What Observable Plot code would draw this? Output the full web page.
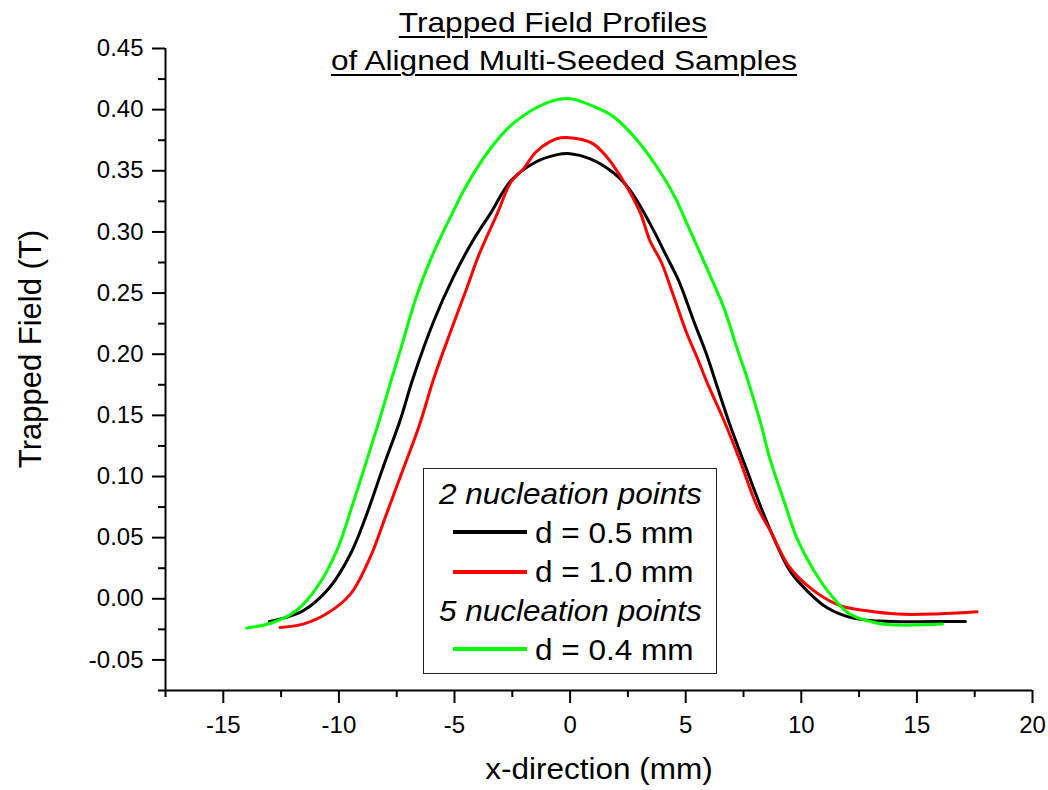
<!DOCTYPE html>
<html>
<head>
<meta charset="utf-8">
<script src="https://cdn.jsdelivr.net/npm/d3@7"></script>
<script src="https://cdn.jsdelivr.net/npm/@observablehq/plot@0.6"></script>
<style>
  html, body { margin: 0; padding: 0; background: #fff; }
  #wrap { position: relative; width: 1048px; height: 790px; font-family: "Liberation Sans", Arial, sans-serif; color: #000; overflow: hidden; }
  #wrap svg { position: absolute; left: 0; top: 0; }
  .ov { position: absolute; white-space: nowrap; }
  .title { font-size: 28px; line-height: 28px; text-decoration: underline; text-decoration-thickness: 2px; text-underline-offset: 4px; transform: translateX(-50%) scaleX(1.13); }
  .ylab { font-size: 31px; line-height: 31px; transform: translate(-50%, -50%) rotate(-90deg); }
  .xlab { font-size: 30px; line-height: 30px; transform: translateX(-50%) scaleX(1.05); }
  .leg { font-size: 30px; line-height: 30px; transform-origin: left center; transform: scaleX(1.05); }
  .it { font-style: italic; }
  .box { position: absolute; border: 1.5px solid #222; box-sizing: border-box; }
  .sw { position: absolute; height: 4px; }
</style>
</head>
<body>
<div id="wrap"></div>
<script>
// ---- data ----
const titleLines = ["Trapped Field Profiles", "of Aligned Multi-Seeded Samples"];
const xLabel = "x-direction (mm)";
const yLabel = "Trapped Field (T)";

const xDomain = [-17.5, 20];
const yDomain = [-0.075, 0.45];
const xMajor = [-15, -10, -5, 0, 5, 10, 15, 20];
const xMinor = [-17.5, -12.5, -7.5, -2.5, 2.5, 7.5, 12.5, 17.5];
const yMajor = [-0.05, 0, 0.05, 0.10, 0.15, 0.20, 0.25, 0.30, 0.35, 0.40, 0.45];
const yMinor = [-0.075, -0.025, 0.025, 0.075, 0.125, 0.175, 0.225, 0.275, 0.325, 0.375, 0.425];

const seriesNames = ["d = 0.5 mm", "d = 1.0 mm", "d = 0.4 mm"];
const seriesColors = ["#000000", "#ff0000", "#00ff00"];
const legendGroups = ["2 nucleation points", "5 nucleation points"];

// 2 nucleation points, d = 0.5 mm (black)
const xBlack = [-13.0, -12.4, -11.55, -10.4, -9.5, -8.8, -8.1, -7.35, -6.8, -5.9, -5.05, -4.2, -3.45, -2.55, -1.5, -0.6, 0, 0.85, 1.9, 2.6, 3.45, 4.2, 4.7, 5.35, 5.9, 6.25, 6.9, 7.65, 8.25, 8.8, 9.5, 10.25, 11.1, 12.25, 14.0, 15.7, 17.1];
const yBlack = [-0.0186, -0.0158, -0.0098, 0.0093, 0.0366, 0.069, 0.107, 0.146, 0.180, 0.227, 0.263, 0.293, 0.315, 0.342, 0.357, 0.363, 0.364, 0.360, 0.348, 0.334, 0.307, 0.279, 0.260, 0.227, 0.200, 0.180, 0.143, 0.105, 0.075, 0.050, 0.023, 0.0065, -0.0071, -0.0158, -0.0186, -0.0186, -0.0186];

// 2 nucleation points, d = 1.0 mm (red)
const xRed = [-12.55, -11.55, -10.55, -9.5, -8.65, -7.95, -7.3, -6.5, -5.9, -5.2, -4.45, -3.95, -3.15, -2.55, -2.0, -1.5, -0.85, -0.4, 0.4, 1.0, 1.6, 2.45, 3.05, 3.45, 3.95, 4.45, 5.05, 5.5, 5.9, 6.65, 7.35, 8.1, 8.65, 9.5, 10.55, 11.7, 12.85, 14.15, 15.7, 17.6];
const yRed = [-0.0235, -0.0207, -0.0125, 0.0038, 0.0338, 0.069, 0.102, 0.143, 0.180, 0.217, 0.255, 0.281, 0.315, 0.341, 0.352, 0.365, 0.374, 0.377, 0.376, 0.372, 0.361, 0.337, 0.315, 0.293, 0.275, 0.249, 0.217, 0.197, 0.178, 0.146, 0.113, 0.075, 0.056, 0.0256, 0.0065, -0.0057, -0.0098, -0.0125, -0.0125, -0.0106];

// 5 nucleation points, d = 0.4 mm (green)
const xGreen = [-14.0, -12.85, -11.85, -10.95, -10.1, -9.4, -8.8, -8.25, -7.75, -7.3, -6.65, -6.0, -5.05, -4.45, -3.45, -2.45, -0.95, 0, 1.45, 1.9, 2.9, 3.9, 4.55, 5.05, 5.9, 6.65, 7.2, 7.7, 8.25, 8.65, 9.25, 9.8, 10.55, 11.25, 12.1, 13.15, 14.15, 16.1];
const yGreen = [-0.024, -0.0194, -0.0098, 0.0093, 0.039, 0.0775, 0.113, 0.146, 0.178, 0.206, 0.247, 0.279, 0.317, 0.339, 0.368, 0.389, 0.406, 0.409, 0.399, 0.394, 0.375, 0.349, 0.328, 0.307, 0.271, 0.238, 0.206, 0.178, 0.143, 0.114, 0.080, 0.050, 0.023, 0.0038, -0.0125, -0.0194, -0.0215, -0.0207];

// ---- build table ----
const xs = [xBlack, xRed, xGreen];
const ys = [yBlack, yRed, yGreen];
const rows = [];
seriesNames.forEach((name, i) => {
  xs[i].forEach((x, j) => rows.push({series: name, x, y: ys[i][j]}));
});

const chart = Plot.plot({
  width: 1048,
  height: 790,
  marginLeft: 165,
  marginRight: 16,
  marginTop: 48,
  marginBottom: 100,
  style: {fontFamily: "'Liberation Sans', Arial, sans-serif", fontSize: "24px", color: "#000", background: "transparent", overflow: "visible"},
  x: {domain: xDomain, axis: null, label: null},
  y: {domain: yDomain, axis: null, label: null},
  color: {domain: seriesNames, range: seriesColors},
  marks: [
    Plot.axisX(xMinor, {anchor: "bottom", tickSize: 7, strokeWidth: 2, tickFormat: () => "", label: null}),
    Plot.axisX(xMajor, {anchor: "bottom", tickSize: 13, tickPadding: 12, strokeWidth: 2, fontSize: 24, tickFormat: d => String(d), label: null}),
    Plot.axisY(yMinor, {anchor: "left", tickSize: 7, strokeWidth: 2, tickFormat: () => "", label: null}),
    Plot.axisY(yMajor, {anchor: "left", tickSize: 13, tickPadding: 9, strokeWidth: 2, fontSize: 24, tickFormat: d => d.toFixed(2), label: null}),
    Plot.ruleX([xDomain[0]], {strokeWidth: 2}),
    Plot.ruleY([yDomain[0]], {strokeWidth: 2}),
    Plot.line(rows, {x: "x", y: "y", z: "series", stroke: "series", strokeWidth: 3, curve: "catmull-rom", strokeLinejoin: "round", strokeLinecap: "round"})
  ]
});

const wrap = document.getElementById("wrap");
wrap.appendChild(chart);

function ov(cls, text, style) {
  const d = document.createElement("div");
  d.className = "ov " + cls;
  d.textContent = text;
  Object.assign(d.style, style);
  wrap.appendChild(d);
  return d;
}

// title (two underlined lines)
ov("title", titleLines[0], {left: "553px", top: "9px"});
ov("title", titleLines[1], {left: "564px", top: "47px"});

// axis titles
ov("ylab", yLabel, {left: "30px", top: "349px"});
ov("xlab", xLabel, {left: "599px", top: "754px"});

// legend box
const box = document.createElement("div");
box.className = "box";
Object.assign(box.style, {left: "423px", top: "468px", width: "294px", height: "206px"});
wrap.appendChild(box);

function swatch(color, cy) {
  const s = document.createElement("div");
  s.className = "sw";
  Object.assign(s.style, {left: "453px", width: "74px", top: (cy - 2) + "px", background: color});
  wrap.appendChild(s);
}
// baseline -> top offset for 30px line-height box is ~25.4px
ov("leg it", legendGroups[0], {left: "439px", top: (504 - 25.4) + "px"});
swatch(seriesColors[0], 532);
ov("leg", seriesNames[0], {left: "535px", top: (543 - 25.4) + "px"});
swatch(seriesColors[1], 571.5);
ov("leg", seriesNames[1], {left: "535px", top: (582 - 25.4) + "px"});
ov("leg it", legendGroups[1], {left: "439px", top: (621 - 25.4) + "px"});
swatch(seriesColors[2], 649);
ov("leg", seriesNames[2], {left: "535px", top: (660 - 25.4) + "px"});
</script>
</body>
</html>
